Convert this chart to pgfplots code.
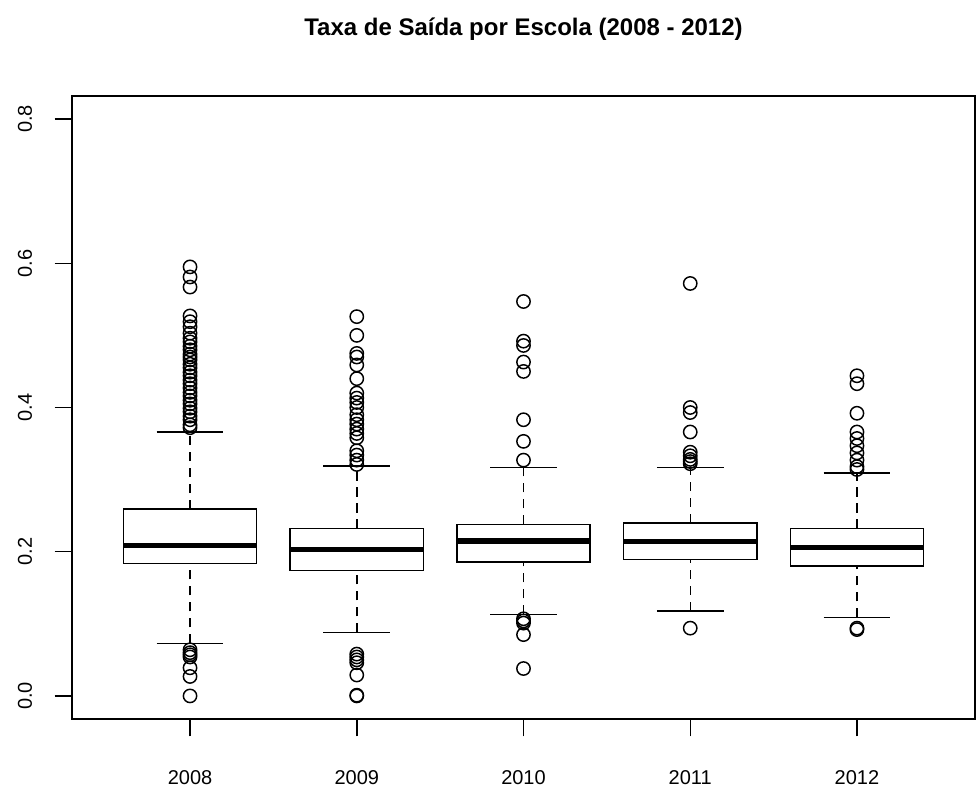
\documentclass[border=0pt]{standalone}
\usepackage{pgfplots}
\pgfplotsset{compat=1.18}
\usepgfplotslibrary{statistics}
\usepackage{fontspec}
\setmainfont{Liberation Sans}
\pgfplotsset{
  boxplot/draw direction=y,
  boxplot/draw/median/.code={%
    \draw[line width=4pt] (boxplot box cs:\pgfplotsboxplotvalue{median},0) -- (boxplot box cs:\pgfplotsboxplotvalue{median},1);},
  boxplot/draw/lower whisker/.code={%
    \draw[dash pattern=on 7pt off 5pt] (boxplot cs:\pgfplotsboxplotvalue{lower whisker}) -- (boxplot cs:\pgfplotsboxplotvalue{lower quartile});
    \draw (boxplot whisker cs:\pgfplotsboxplotvalue{lower whisker},0) -- (boxplot whisker cs:\pgfplotsboxplotvalue{lower whisker},1);},
  boxplot/draw/upper whisker/.code={%
    \draw[dash pattern=on 7pt off 5pt] (boxplot cs:\pgfplotsboxplotvalue{upper quartile}) -- (boxplot cs:\pgfplotsboxplotvalue{upper whisker});
    \draw (boxplot whisker cs:\pgfplotsboxplotvalue{upper whisker},0) -- (boxplot whisker cs:\pgfplotsboxplotvalue{upper whisker},1);},
  bx/.style={black, line width=1.1pt, mark=o, mark size=5pt, mark options={solid, line width=1.1pt}},
}
\begin{document}
\begin{tikzpicture}
\useasboundingbox (-54pt,-51pt) rectangle (678.75pt,539.25pt);
\begin{axis}[
  at={(0,0)}, anchor=south west,
  scale only axis, width=677.25pt, height=467.25pt,
  xmin=0.292, xmax=5.708, ymin=-0.032, ymax=0.832,
  axis line style={line width=1.1pt},
  xtick={1,2,3,4,5}, xticklabels={2008,2009,2010,2011,2012},
  ytick={0,0.2,0.4,0.6,0.8}, yticklabels={0.0,0.2,0.4,0.6,0.8},
  tick align=outside, tick pos=left,
  major tick length=13pt,
  tick style={line width=1.1pt, black},
  ticklabel style={font=\fontsize{15}{18}\selectfont},
  xticklabel style={anchor=base, yshift=-36pt},
  yticklabel style={rotate=90, anchor=base},
  yticklabel shift=17pt,
  clip=false,
]
\addplot[bx, boxplot prepared={draw position=1, lower whisker=0.073, lower quartile=0.184, median=0.209, upper quartile=0.259, upper whisker=0.366, box extend=0.8, whisker extend=0.4}]
table[row sep=\\, y index=0] {y\\ 0.595\\0.581\\0.567\\0.527\\0.519\\0.512\\0.503\\0.496\\0.491\\0.485\\0.480\\0.474\\0.470\\0.466\\0.460\\0.455\\0.449\\0.444\\0.438\\0.433\\0.427\\0.421\\0.416\\0.410\\0.405\\0.399\\0.394\\0.388\\0.383\\0.376\\0.372\\0.064\\0.060\\0.057\\0.054\\0.039\\0.027\\0.000\\};
\addplot[bx, boxplot prepared={draw position=2, lower whisker=0.088, lower quartile=0.174, median=0.203, upper quartile=0.232, upper whisker=0.319, box extend=0.8, whisker extend=0.4}]
table[row sep=\\, y index=0] {y\\ 0.526\\0.500\\0.475\\0.470\\0.459\\0.440\\0.420\\0.413\\0.407\\0.400\\0.390\\0.383\\0.377\\0.370\\0.364\\0.358\\0.340\\0.334\\0.327\\0.321\\0.058\\0.054\\0.050\\0.046\\0.029\\0.001\\0.000\\};
\addplot[bx, boxplot prepared={draw position=3, lower whisker=0.113, lower quartile=0.186, median=0.215, upper quartile=0.238, upper whisker=0.317, box extend=0.8, whisker extend=0.4}]
table[row sep=\\, y index=0] {y\\ 0.547\\0.492\\0.486\\0.463\\0.450\\0.383\\0.353\\0.327\\0.107\\0.104\\0.101\\0.085\\0.038\\};
\addplot[bx, boxplot prepared={draw position=4, lower whisker=0.118, lower quartile=0.189, median=0.214, upper quartile=0.240, upper whisker=0.317, box extend=0.8, whisker extend=0.4}]
table[row sep=\\, y index=0] {y\\ 0.572\\0.400\\0.393\\0.366\\0.338\\0.333\\0.328\\0.325\\0.322\\0.094\\};
\addplot[bx, boxplot prepared={draw position=5, lower whisker=0.109, lower quartile=0.180, median=0.206, upper quartile=0.232, upper whisker=0.309, box extend=0.8, whisker extend=0.4}]
table[row sep=\\, y index=0] {y\\ 0.444\\0.433\\0.392\\0.366\\0.357\\0.347\\0.337\\0.327\\0.318\\0.314\\0.094\\0.092\\};
\node[font=\bfseries\fontsize{18}{21}\selectfont, anchor=base, yshift=45pt] at (rel axis cs:0.5,1) {Taxa de Saída por Escola (2008 - 2012)};
\end{axis}
\end{tikzpicture}
\end{document}
